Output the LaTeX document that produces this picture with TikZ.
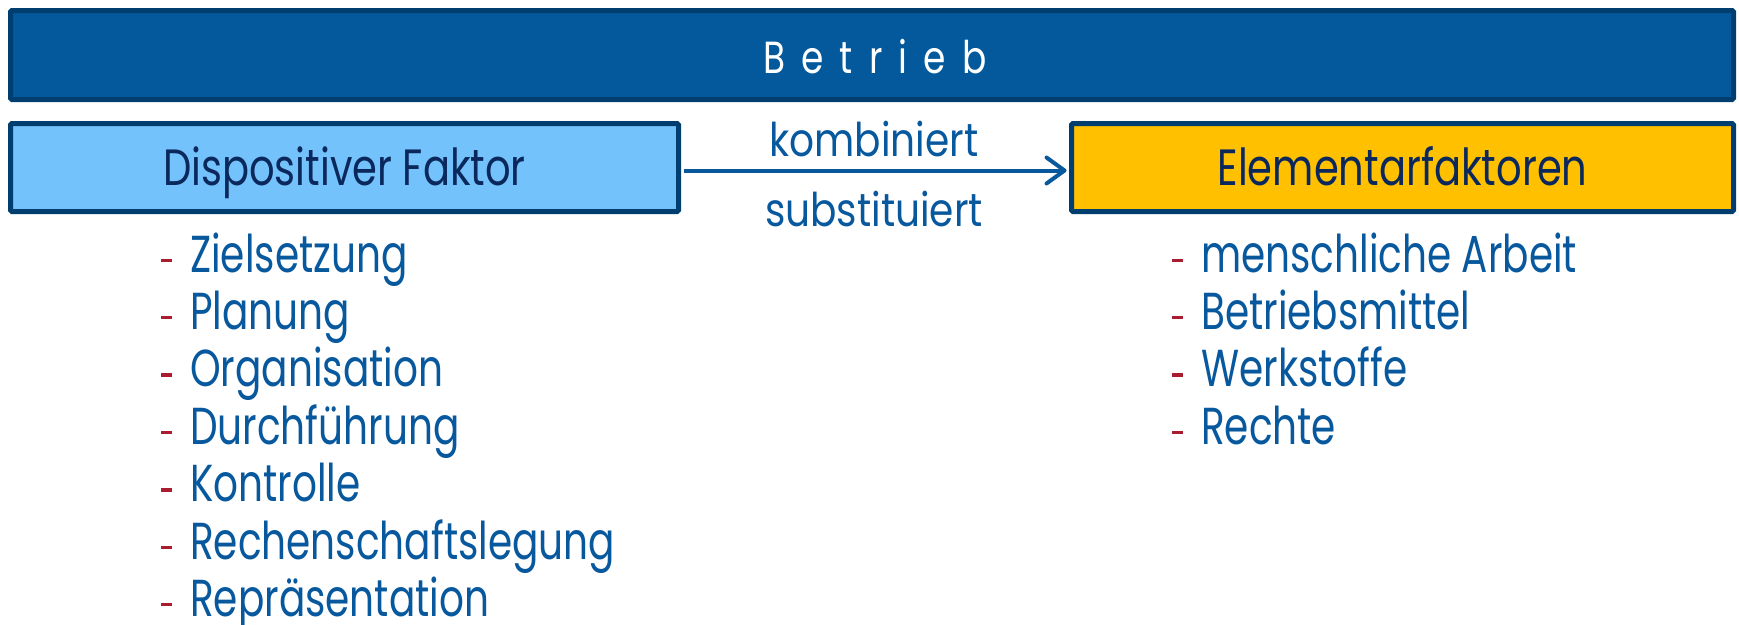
\documentclass[tikz,border=0pt]{standalone}
\usepackage{fontspec}
\setmainfont{Poppins}[FakeStretch=0.75]
\newfontfamily\boxfont{Poppins}[FakeStretch=0.785]
\newfontfamily\verbfont{Poppins}[FakeStretch=0.84]
\newfontfamily\titlefont{Poppins}[FakeStretch=0.8, LetterSpace=36]
\usetikzlibrary{arrows.meta}

\definecolor{barblue}{RGB}{3,89,155}
\definecolor{edgeblue}{RGB}{0,62,112}
\definecolor{lightblue}{RGB}{115,194,251}
\definecolor{gold}{RGB}{255,192,0}
\definecolor{textblue}{RGB}{8,88,158}
\definecolor{navy}{RGB}{11,40,92}
\definecolor{dashred}{RGB}{170,28,48}

% red bullet dash followed by the item text
\newcommand{\itemtext}[1]{\makebox[29pt][l]{\color{dashred}\rule[10pt]{11pt}{3.5pt}}#1}

\begin{document}
\begin{tikzpicture}[x=1pt,y=-1pt,
  panel/.style={draw=edgeblue, line width=5pt, rounded corners=1.5pt, inner sep=0pt},
  boxlabel/.style={text=navy, font=\boxfont\fontsize{51}{51}\selectfont,
    text height=35pt, text depth=0pt},
  verb/.style={text=textblue, font=\verbfont\fontsize{46.5}{46.5}\selectfont, anchor=base, inner sep=0pt},
  listitem/.style={text=textblue, font=\fontsize{52}{52}\selectfont, anchor=base west, inner sep=0pt},
  link/.style={draw=textblue, line width=4pt,
    -{Straight Barb[length=18pt, width=26pt, line width=4pt, round]}}]
\useasboundingbox (0,0) rectangle (1739,624);

% top bar
\node[panel, fill=barblue, minimum width=1723pt, minimum height=89pt] (bar) at (872,55) {};
\node[text=white, font=\titlefont\fontsize{45}{45}\selectfont, anchor=base, inner sep=0pt]
  (betrieb) at (875,73) {Betrieb};

% the two factor boxes
\node[panel, fill=lightblue, minimum width=668pt, minimum height=88pt, boxlabel] (disp) at (344.5,167.5) {Dispositiver Faktor};
\node[panel, fill=gold, minimum width=662pt, minimum height=88pt, boxlabel] (elem) at (1402.5,167.5) {Elementarfaktoren};

% connector with its labels
\draw[link, shorten <=2.5pt, shorten >=2.5pt] ([yshift=-3pt]disp.east) -- ([yshift=-3pt]elem.west);
\node[verb] (komb) at (874,156) {kombiniert};
\node[verb] (subst) at (874,226) {substituiert};

% lists
\foreach \t [count=\i from 0] in {Zielsetzung, Planung, Organisation, Durchführung, Kontrolle, Rechenschaftslegung, Repräsentation}
  \node[listitem] (dl\i) at (161, 272+57.4*\i) {\itemtext{\t}};
\foreach \t [count=\i from 0] in {menschliche Arbeit, Betriebsmittel, Werkstoffe, Rechte}
  \node[listitem] (el\i) at (1172, 272+57.4*\i) {\itemtext{\t}};
\end{tikzpicture}
\end{document}
